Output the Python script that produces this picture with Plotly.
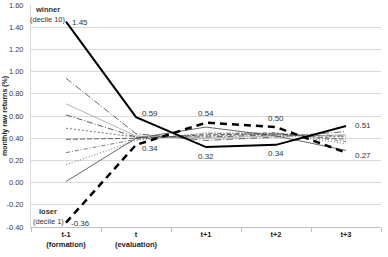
import plotly.graph_objects as go

periods = ["t-1<br>(formation)", "t<br>(evaluation)", "t+1", "t+2", "t+3"]
winner = [1.45, 0.59, 0.32, 0.34, 0.51]
loser = [-0.36, 0.34, 0.54, 0.50, 0.27]
decile2 = [0.01, 0.40, 0.50, 0.42, 0.29]
decile3 = [0.16, 0.38, 0.45, 0.44, 0.35]
decile4 = [0.27, 0.39, 0.44, 0.45, 0.37]
decile5 = [0.39, 0.40, 0.43, 0.44, 0.39]
decile6 = [0.49, 0.41, 0.42, 0.44, 0.41]
decile7 = [0.61, 0.41, 0.41, 0.43, 0.42]
decile8 = [0.71, 0.42, 0.40, 0.42, 0.43]
decile9 = [0.94, 0.44, 0.38, 0.41, 0.46]
y_ticks = [-0.4, -0.2, 0.0, 0.2, 0.4, 0.6, 0.8, 1.0, 1.2, 1.4, 1.6]

font = "Liberation Sans"
fig = go.Figure()

mids = [
    (decile2, "#404040", 0.8, "solid"),
    (decile3, "#555555", 0.8, "1px,2px"),
    (decile4, "#555555", 0.8, "4px,2px,1px,2px"),
    (decile5, "#404040", 0.8, "5px,2px"),
    (decile6, "#555555", 0.8, "2px,2px"),
    (decile7, "#303030", 0.8, "6px,2px,1px,2px"),
    (decile8, "#a0a0a0", 0.8, "solid"),
    (decile9, "#404040", 0.8, "7px,2px,1px,2px"),
]
for vals, col, w, d in mids:
    fig.add_trace(go.Scatter(x=periods, y=vals, mode="lines",
                             line=dict(color=col, width=w, dash=d),
                             hoverinfo="skip", showlegend=False))

fig.add_trace(go.Scatter(x=periods, y=winner, mode="lines",
                         line=dict(color="black", width=2), showlegend=False))
fig.add_trace(go.Scatter(x=periods, y=loser, mode="lines",
                         line=dict(color="black", width=2.5, dash="7px,5px"), showlegend=False))

def ann(i, yv, text, xs, ys, xa="left", size=8):
    fig.add_annotation(x=periods[i], y=yv, text=text, showarrow=False,
                       xshift=xs, yshift=ys, xanchor=xa, yanchor="middle",
                       font=dict(size=size, color="#333333", family=font))

ann(0, winner[0], f"{winner[0]:.2f}", 4, -1)
ann(1, winner[1], f"{winner[1]:.2f}", 4, 4)
ann(2, winner[2], f"{winner[2]:.2f}", 0, -9, "center")
ann(3, winner[3], f"{winner[3]:.2f}", 0, -9, "center")
ann(4, winner[4], f"{winner[4]:.2f}", 7, 0)
ann(0, loser[0], f"{loser[0]:.2f}", 3, -1)
ann(1, loser[1], f"{loser[1]:.2f}", 4, -4)
ann(2, loser[2], f"{loser[2]:.2f}", 0, 9, "center")
ann(3, loser[3], f"{loser[3]:.2f}", 0, 9, "center")
ann(4, loser[4], f"{loser[4]:.2f}", 7, -3)

ann(0, winner[0], "<b>winner</b>", -19, 12, "center", size=7.5)
ann(0, winner[0], "(decile 10)", -18, 2, "center", size=7.5)
ann(0, loser[0], "<b>loser</b>", -18, 11, "center", size=7.5)
ann(0, loser[0], "(decile 1)", -18, 1, "center", size=7.5)

fig.add_annotation(text="<b>monthly raw returns (%)</b>", xref="paper", yref="paper",
                   x=0, y=0.5, xshift=-26, xanchor="center", yanchor="middle",
                   textangle=-90, showarrow=False,
                   font=dict(size=7, color="#222222", family=font))

fig.update_layout(
    width=388, height=257,
    margin=dict(l=31, r=7, t=5, b=30),
    plot_bgcolor="white", paper_bgcolor="white",
    font=dict(family=font, size=8, color="#404040"),
    xaxis=dict(type="category", range=[-0.5, 4.5], showgrid=False, automargin=False,
               showline=True, linecolor="#bfbfbf", linewidth=1,
               ticks="outside", tickson="boundaries", ticklen=4, tickcolor="#bfbfbf",
               tickfont=dict(size=7.5, color="#222222", family=font),
               tickvals=periods,
               ticktext=["<b>t-1</b><br><b>(formation)</b>", "<b>t</b><br><b>(evaluation)</b>",
                         "<b>t+1</b>", "<b>t+2</b>", "<b>t+3</b>"]),
    yaxis=dict(range=[-0.4, 1.6], tickvals=y_ticks, automargin=False,
               ticktext=[f"{v:.2f}" for v in y_ticks],
               showgrid=True, gridcolor="#d9d9d9", gridwidth=1,
               zeroline=False, showline=True, linecolor="#d9d9d9",
               ticks="", ticklabelstandoff=5,
               tickfont=dict(size=7.5, color="#404040", family=font)),
)
fig.write_html("out.html")
